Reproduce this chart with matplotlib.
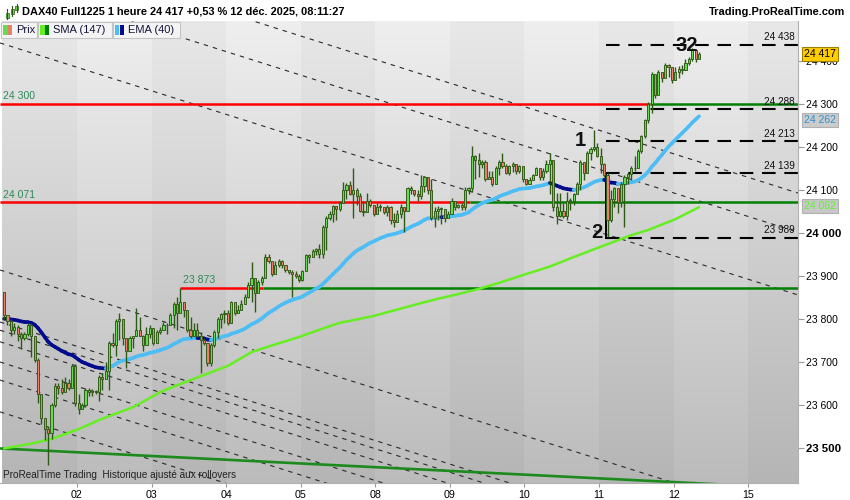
import numpy as np
import matplotlib.pyplot as plt
from matplotlib.collections import LineCollection
from matplotlib.patches import Rectangle
from matplotlib.lines import Line2D

plt.rcParams['font.family'] = ['Liberation Sans', 'DejaVu Sans']

# ---- data (DAX40 Full1225, 1h bars) ----
day_labels = ['01', '02', '03', '04', '05', '08', '09', '10', '11', '12', '15']
bars_per_day = 22
first_open = 23862

close = [
    23810, 23795, 23775, 23782, 23765, 23755, 23765, 23785, 23760, 23705, 23625, 23570, 23545, 23535, 23600, 23645, 23640, 23630, 23650, 23640, 23690, 23605,
    23590, 23600, 23635, 23630, 23632, 23630, 23665, 23660, 23680, 23745, 23740, 23795, 23800, 23755, 23725, 23755, 23760, 23775, 23760, 23740, 23765, 23780,
    23745, 23770, 23775, 23785, 23785, 23810, 23835, 23815, 23840, 23820, 23775, 23760, 23775, 23760, 23750, 23745, 23697, 23740, 23770, 23800, 23812, 23815,
    23790, 23840, 23815, 23820, 23835, 23850, 23880, 23895, 23860, 23885, 23895, 23945, 23935, 23905, 23925, 23935, 23925, 23915, 23910, 23905, 23900, 23890,
    23912, 23948, 23945, 23958, 23962, 23950, 24015, 24035, 24045, 24062, 24055, 24070, 24100, 24112, 24090, 24100, 24085, 24050, 24048, 24075, 24065, 24045,
    24060, 24060, 24048, 24060, 24030, 24025, 24045, 24060, 24050, 24105, 24100, 24090, 24085, 24110, 24130, 24100, 24035, 24050, 24055, 24055, 24035, 24045,
    24075, 24060, 24065, 24060, 24100, 24105, 24180, 24170, 24160, 24165, 24125, 24130, 24115, 24150, 24165, 24155, 24140, 24155, 24160, 24145, 24155, 24125,
    24115, 24123, 24135, 24150, 24130, 24145, 24160, 24170, 24060, 24040, 24050, 24040, 24075, 24075, 24090, 24115, 24165, 24140, 24185, 24195, 24200, 24180,
    24160, 24135, 24030, 24080, 24105, 24072, 24115, 24130, 24138, 24150, 24150, 24190, 24225, 24262, 24300, 24370, 24320, 24375, 24360, 24390, 24385, 24355,
    24375, 24382, 24378, 24395, 24405, 24425, 24405, 24417,
]
high = [
    23862, 23805, 23800, 23790, 23785, 23770, 23770, 23790, 23790, 23755, 23710, 23625, 23560, 23548, 23605, 23650, 23652, 23660, 23665, 23660, 23695, 23695,
    23625, 23605, 23640, 23640, 23638, 23635, 23670, 23675, 23700, 23748, 23768, 23800, 23815, 23800, 23740, 23760, 23760, 23825, 23805, 23762, 23782, 23785,
    23770, 23775, 23782, 23792, 23790, 23815, 23840, 23850, 23871, 23840, 23815, 23805, 23790, 23790, 23770, 23755, 23745, 23745, 23775, 23805, 23815, 23820,
    23820, 23843, 23840, 23833, 23845, 23858, 23885, 23933, 23880, 23890, 23900, 23950, 23950, 23930, 23935, 23940, 23937, 23925, 23915, 23915, 23912, 23905,
    23915, 23950, 23950, 23962, 23965, 23975, 24018, 24040, 24052, 24065, 24062, 24075, 24119, 24116, 24120, 24150, 24105, 24092, 24075, 24092, 24080, 24065,
    24070, 24068, 24056, 24065, 24062, 24046, 24053, 24068, 24058, 24108, 24110, 24100, 24100, 24135, 24132, 24120, 24125, 24061, 24062, 24060, 24045, 24050,
    24081, 24065, 24068, 24069, 24108, 24108, 24202, 24182, 24185, 24170, 24170, 24145, 24145, 24155, 24170, 24185, 24160, 24158, 24165, 24150, 24158, 24150,
    24125, 24131, 24138, 24154, 24143, 24150, 24170, 24185, 24120, 24092, 24092, 24069, 24096, 24081, 24092, 24119, 24170, 24158, 24190, 24201, 24240, 24209,
    24197, 24162, 24139, 24100, 24108, 24078, 24118, 24135, 24140, 24155, 24180, 24195, 24228, 24265, 24305, 24375, 24360, 24380, 24370, 24395, 24392, 24385,
    24385, 24388, 24390, 24405, 24410, 24430, 24425, 24420,
]
low = [
    23800, 23785, 23760, 23765, 23748, 23730, 23750, 23760, 23712, 23700, 23605, 23555, 23518, 23461, 23520, 23595, 23625, 23625, 23640, 23635, 23655, 23598,
    23580, 23592, 23595, 23620, 23622, 23625, 23610, 23635, 23675, 23635, 23735, 23715, 23750, 23740, 23685, 23725, 23732, 23765, 23760, 23725, 23760, 23755,
    23740, 23760, 23765, 23775, 23765, 23785, 23780, 23775, 23830, 23805, 23770, 23755, 23770, 23758, 23674, 23740, 23690, 23690, 23735, 23755, 23780, 23790,
    23785, 23810, 23810, 23815, 23830, 23845, 23848, 23840, 23817, 23870, 23880, 23895, 23930, 23900, 23905, 23920, 23918, 23910, 23905, 23852, 23895, 23885,
    23888, 23918, 23930, 23945, 23948, 23942, 23942, 23960, 24030, 24025, 24030, 24050, 24070, 24080, 24088, 24034, 24065, 24048, 24040, 24065, 24060, 24040,
    24050, 24050, 24045, 24040, 24022, 24015, 24035, 24035, 24003, 24050, 24090, 24085, 24075, 24080, 24095, 24090, 24030, 24015, 24030, 24020, 24025, 24040,
    24061, 24053, 24057, 24053, 24053, 24090, 24095, 24125, 24130, 24150, 24120, 24125, 24110, 24130, 24135, 24150, 24138, 24135, 24143, 24138, 24140, 24118,
    24112, 24115, 24128, 24135, 24123, 24123, 24139, 24090, 24050, 24022, 24038, 24034, 24030, 24053, 24065, 24092, 24100, 24123, 24154, 24170, 24190, 24177,
    24140, 24130, 23991, 24025, 24060, 24046, 24060, 24015, 24115, 24123, 24145, 24165, 24185, 24220, 24255, 24280, 24315, 24335, 24350, 24365, 24362, 24348,
    24355, 24360, 24370, 24380, 24390, 24400, 24398, 24408,
]

ema_period = 40
ema_seed = 23800

# SMA(147) read at a few bars
sma_bars = [0, 8, 14, 22, 28, 33, 38, 42, 46, 52, 58, 66, 73, 80, 87, 93, 99, 104, 109, 116,
            123, 128, 134, 140, 146, 153, 161, 168, 176, 185, 190, 198, 205]
sma_vals = [23499, 23510, 23521, 23544, 23565, 23580, 23595, 23612, 23630, 23649, 23667, 23691,
            23723, 23741, 23758, 23775, 23791, 23799, 23807, 23822, 23837, 23847, 23858, 23870,
            23884, 23902, 23922, 23944, 23968, 23995, 24007, 24032, 24060]

# horizontal support/resistance levels
level_prices = [24300, 24071, 23873]
level_start = [None, None, 52]
level_break = [190.5, 137.4, 76.4]

# dashed target levels (right side)
target_levels = [24438, 24288, 24213, 24139, 23989]
target_start = 178

# descending channel lines: price at left edge, slope in points per bar
channel_upper = [24442, 24588, 24679]
channel_lower = [23914, 23793, 23774, 23747, 23700, 23658, 23584]
channel_slope = -2.49
trend_start = 23499
trend_slope = -0.394

last_price = 24417
ema_label = 24262
sma_label = 24062

# ---- figure geometry (pixels of an 850x500 image) ----
W, H = 850, 500
PX_BAR = 3.39
plot_left, plot_right, plot_top, plot_bottom = 0, 798, 21, 483
x_lo = -0.5 - 2.4 / PX_BAR
x_hi = x_lo + (plot_right - plot_left) / PX_BAR
y_lo, y_hi = 23418.6, 24493.0


def fx(x):
    return x / W


def fy(y):
    return 1 - y / H


fig = plt.figure(figsize=(W / 100, H / 100), dpi=100, facecolor='white')
ax = fig.add_axes([fx(plot_left), fy(plot_bottom), (plot_right - plot_left) / W, (plot_bottom - plot_top) / H])
ax.set_xlim(x_lo, x_hi)
ax.set_ylim(y_lo, y_hi)

# day bands with vertical gradient
n_days = len(day_labels)
for d in range(n_days):
    x0 = max(d * bars_per_day - 0.5, x_lo)
    x1 = x_hi if d == n_days - 1 else (d + 1) * bars_per_day - 0.5
    top, bot = (0.935, 0.735) if d % 2 else (0.91, 0.71)
    g = np.linspace(top, bot, 256)[:, None, None] * np.ones((1, 1, 3))
    ax.imshow(g, extent=[x0, x1, y_lo, y_hi], origin='upper', aspect='auto', zorder=0)

# channel lines
for p0 in channel_upper + channel_lower:
    ax.plot([x_lo, x_hi], [p0, p0 + channel_slope * (x_hi - x_lo)], color='#2a2a2a',
            lw=0.8, dashes=(4, 4.5), zorder=1)
ax.plot([x_lo, x_hi], [trend_start, trend_start + trend_slope * (x_hi - x_lo)],
        color='#1c8a1c', lw=1.9, zorder=2)

# horizontal levels, red until price broke above, then green
for p, s, b in zip(level_prices, level_start, level_break):
    s = x_lo if s is None else s
    ax.plot([s, b], [p, p], color='#ff0000', lw=1.8, zorder=2, solid_capstyle='butt')
    ax.plot([b, x_hi], [p, p], color='#008000', lw=1.8, zorder=2, solid_capstyle='butt')
    ax.text(s + 0.8, p + 6, f"{p:,}".replace(',', ' '), color='#2e8b57', fontsize=7.6,
            va='bottom', ha='left', zorder=6)

# target levels
for p in target_levels:
    ax.plot([target_start - 0.3, x_hi], [p, p], color='black', lw=1.5, dashes=(6.5, 4.2), zorder=2)
    ax.text(x_hi - 1, p + 6, f"{p:,}".replace(',', ' '), fontsize=7.2, ha='right', va='bottom',
            color='#111111', zorder=6)
ax.plot([target_start - 0.3] * 2, [target_levels[-1], target_levels[-2]], color='black', lw=1.4, zorder=2)

# SMA and EMA
ax.plot(sma_bars, sma_vals, color='#66ee22', lw=1.8, zorder=3, solid_capstyle='round')

close = np.array(close, float)
high = np.array(high, float)
low = np.array(low, float)
opens = np.concatenate([[first_open], close[:-1]])
xb = np.arange(len(close))

alpha = 2 / (ema_period + 1)
ema = np.empty_like(close)
prev = ema_seed
for i, c in enumerate(close):
    prev = prev + alpha * (c - prev)
    ema[i] = prev
pts = np.column_stack([xb, ema])
segs = np.stack([pts[:-1], pts[1:]], axis=1)
cols = ['#000a8c' if ema[i + 1] < ema[i] else '#4dbdf5' for i in range(len(ema) - 1)]
ax.add_collection(LineCollection(segs, colors=cols, linewidths=2.6, capstyle='round', zorder=3))

# candles
dark = '#2d5a14'
fills = np.where(close >= opens, '#66d955', '#e8806a')
body_lo = np.minimum(opens, close)
body_h = np.maximum(np.abs(close - opens), 2.0)
ax.vlines(xb, low, high, color=dark, lw=1.0, zorder=4)
ax.bar(xb, body_h, bottom=body_lo, width=0.64, color=fills, edgecolor=dark, linewidth=0.65, zorder=5)

# wave annotations
for txt, bx, p in [('1', 170, 24214), ('2', 175, 24000), ('32', 201.4, 24437)]:
    ax.text(bx, p, txt, fontsize=14.5, fontweight='bold', ha='center', va='center', color='#111111', zorder=7)

# axes styling
ax.yaxis.tick_right()
yt = list(range(23500, 24401, 100))
ax.set_yticks(yt)
ax.set_yticklabels([f"{v:,}".replace(',', ' ') for v in yt], fontsize=7.5)
for lab, v in zip(ax.get_yticklabels(), yt):
    if v in (24000, 23500):
        lab.set_fontweight('bold')
        lab.set_fontsize(8.2)
day_pos = [d * bars_per_day - 0.5 for d in range(1, n_days)]
ax.set_xticks(day_pos)
ax.set_xticklabels(day_labels[1:], fontsize=7.7)
ax.tick_params(axis='y', length=4, color='#999999', pad=2)
ax.tick_params(axis='x', length=3, color='#999999', pad=2)
for side in ('left', 'top'):
    ax.spines[side].set_visible(False)
for side in ('right', 'bottom'):
    ax.spines[side].set_color('#b0b0b0')
    ax.spines[side].set_linewidth(0.8)

# value tags on the price axis
ytr = ax.get_yaxis_transform()
for v, fc, ec, tc in [(last_price, '#ffcc00', '#a08000', 'black'),
                      (ema_label, '#cccccc', '#b0b0b0', '#2f8fd0'),
                      (sma_label, '#c8c8c8', '#b0b0b0', '#5cf52a')]:
    ax.text(1 + 6 / 798, v, f"{v:,}".replace(',', ' '), transform=ytr, fontsize=7.5, color=tc,
            ha='left', va='center', clip_on=False, zorder=8,
            bbox=dict(boxstyle='square,pad=0.18', fc=fc, ec=ec, lw=0.8))

ax.text(x_lo + 1, y_lo + 8, 'ProRealTime Trading  Historique ajusté aux rollovers', fontsize=7.2,
        color='#222222', ha='left', va='bottom', zorder=7)

# header
fig.text(fx(22), fy(12), 'DAX40 Full1225 1 heure 24 417 +0,53 % 12 déc. 2025, 08:11:27',
         fontsize=7.9, fontweight='bold', va='center', ha='left')
fig.text(fx(845), fy(12), 'Trading.ProRealTime.com', fontsize=7.9, fontweight='bold', va='center', ha='right')
for cx, y0, y1, b0, b1 in [(7, 9, 19, 13, 18), (12, 6, 16, 9, 14), (16.5, 4, 12, 6, 10)]:
    fig.add_artist(Line2D([fx(cx)] * 2, [fy(y1), fy(y0)], color=dark, lw=0.8))
    fig.add_artist(Rectangle((fx(cx - 1.5), fy(b1)), 3 / W, (b1 - b0) / H, fc='#66d955', ec=dark, lw=0.5))

# legend boxes
legend = [(1, 37, 'Prix', '#66d955', '#e8806a'),
          (38, 112, 'SMA (147)', '#66ee22', '#008000'),
          (113, 180, 'EMA (40)', '#4dbdf5', '#000a8c')]
for x0, x1, label, c1, c2 in legend:
    fig.add_artist(Rectangle((fx(x0), fy(38)), (x1 - x0) / W, 16 / H, fc='#f4f4f4', ec='#c4c4c4', lw=0.8, zorder=9))
    fig.add_artist(Rectangle((fx(x0 + 2), fy(35)), 4.5 / W, 10 / H, fc=c1, ec='none', zorder=10))
    fig.add_artist(Rectangle((fx(x0 + 6.5), fy(35)), 4.5 / W, 10 / H, fc=c2, ec='none', zorder=10))
    fig.text(fx(x0 + 15), fy(30), label, fontsize=8, color='#14143c', va='center', ha='left', zorder=11)

fig.savefig('out.png', dpi=100, facecolor='white')
